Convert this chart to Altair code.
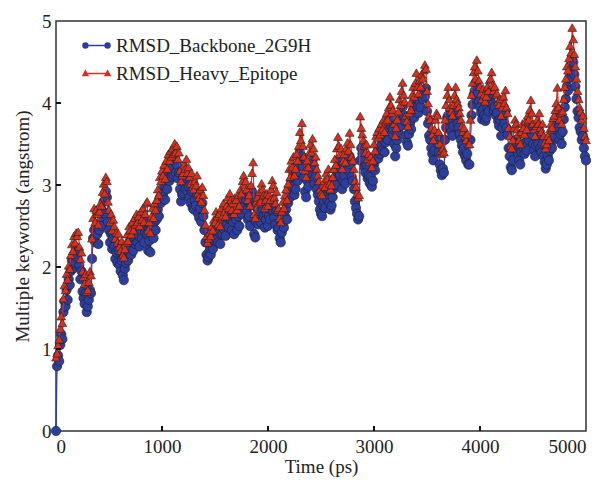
import altair as alt
import pandas as pd

# ---------------- data (one value every 10 ps) ----------------
time_ps = list(range(0, 5001, 10))

backbone = [
    0.00, 0.79, 0.92, 0.85, 1.05, 1.18, 1.12, 1.45, 1.58, 1.52,
    1.72, 1.60, 1.85, 1.78, 1.95, 2.08, 1.98, 2.15, 2.05, 2.22,
    2.12, 2.20, 2.02, 1.85, 1.95, 1.70, 1.62, 1.55, 1.68, 1.45,
    1.52, 1.60, 1.72, 1.68, 2.10, 2.35, 2.45, 2.30, 2.48, 2.40,
    2.28, 2.45, 2.55, 2.50, 2.68, 2.80, 2.65, 2.92, 2.85, 2.55,
    2.45, 2.30, 2.40, 2.22, 2.35, 2.25, 2.10, 2.18, 2.05, 2.20,
    2.02, 1.95, 2.08, 1.90, 1.84, 1.98, 2.05, 2.15, 2.08, 2.25,
    2.22, 2.15, 2.30, 2.20, 2.35, 2.28, 2.42, 2.30, 2.38, 2.25,
    2.45, 2.35, 2.50, 2.30, 2.42, 2.55, 2.40, 2.20, 2.32, 2.18,
    2.40, 2.50, 2.35, 2.55, 2.45, 2.58, 2.70, 2.62, 2.85, 2.78,
    2.95, 2.88, 3.00, 2.82, 3.05, 2.95, 3.12, 3.05, 3.18, 3.10,
    3.22, 3.12, 3.28, 3.15, 3.25, 3.08, 3.15, 2.95, 2.80, 2.88,
    2.90, 3.02, 2.95, 3.08, 2.92, 2.98, 2.85, 2.78, 2.92, 2.72,
    2.70, 2.82, 2.75, 2.88, 2.65, 2.60, 2.72, 2.55, 2.78, 2.62,
    2.45, 2.30, 2.15, 2.08, 2.12, 2.20, 2.15, 2.28, 2.22, 2.35,
    2.32, 2.45, 2.38, 2.30, 2.42, 2.28, 2.50, 2.40, 2.55, 2.45,
    2.38, 2.52, 2.60, 2.48, 2.65, 2.58, 2.45, 2.55, 2.40, 2.62,
    2.58, 2.45, 2.62, 2.50, 2.72, 2.65, 2.80, 2.88, 2.75, 2.82,
    2.70, 2.58, 2.62, 2.50, 2.75, 2.92, 2.85, 2.40, 2.36, 2.55,
    2.60, 2.52, 2.68, 2.55, 2.78, 2.70, 2.62, 2.48, 2.58, 2.65,
    2.50, 2.62, 2.58, 2.70, 2.82, 2.75, 2.60, 2.52, 2.68, 2.45,
    2.48, 2.35, 2.30, 2.42, 2.55, 2.48, 2.62, 2.70, 2.58, 2.78,
    2.95, 2.85, 3.05, 2.98, 3.10, 2.88, 2.95, 3.12, 3.05, 3.22,
    3.40, 3.30, 3.35, 3.22, 3.10, 2.92, 2.85, 3.05, 2.98, 3.15,
    3.25, 3.15, 3.30, 3.20, 3.02, 3.10, 2.95, 2.88, 2.80, 2.70,
    2.65, 2.62, 2.75, 2.80, 2.72, 2.90, 2.82, 2.95, 2.78, 2.70,
    2.75, 2.85, 2.95, 3.08, 3.00, 3.18, 3.30, 3.22, 3.12, 3.20,
    2.95, 3.05, 3.12, 3.02, 3.20, 3.28, 3.18, 3.35, 3.25, 3.10,
    3.05, 2.95, 2.80, 2.72, 2.65, 2.58, 2.62, 3.30, 3.45, 3.38,
    3.30, 3.22, 3.15, 3.25, 3.08, 3.12, 3.02, 3.10, 2.98, 3.05,
    3.25, 3.18, 3.35, 3.40, 3.32, 3.45, 3.38, 3.50, 3.42, 3.55,
    3.40, 3.52, 3.62, 3.55, 3.70, 3.80, 3.72, 3.62, 3.68, 3.50,
    3.35, 3.45, 3.55, 3.65, 3.80, 3.72, 3.88, 3.95, 3.85, 3.78,
    3.60, 3.52, 3.48, 3.62, 3.75, 3.68, 3.85, 3.92, 3.82, 3.98,
    4.05, 3.95, 3.88, 4.02, 3.95, 4.10, 4.05, 4.15, 4.08, 4.18,
    3.90, 3.75, 3.60, 3.55, 3.45, 3.38, 3.30, 3.42, 3.55, 3.62,
    3.60, 3.40, 3.25, 3.18, 3.12, 3.20, 3.15, 3.55, 3.70, 3.82,
    3.85, 3.78, 3.70, 3.65, 3.60, 3.72, 3.85, 3.92, 3.80, 3.75,
    3.70, 3.62, 3.55, 3.48, 3.40, 3.45, 3.35, 3.30, 3.38, 3.25,
    3.25, 3.55, 3.85, 3.98, 4.10, 4.15, 4.05, 4.20, 4.12, 4.02,
    3.95, 3.88, 3.80, 3.92, 3.85, 3.78, 3.82, 3.95, 3.90, 4.02,
    4.05, 4.12, 3.98, 3.90, 3.95, 3.85, 3.88, 3.78, 3.72, 3.80,
    3.60, 3.70, 3.82, 3.75, 3.90, 3.70, 3.62, 3.45, 3.35, 3.22,
    3.18, 3.30, 3.45, 3.55, 3.50, 3.42, 3.38, 3.30, 3.25, 3.40,
    3.50, 3.45, 3.38, 3.52, 3.42, 3.60, 3.55, 3.68, 3.72, 3.62,
    3.50, 3.42, 3.35, 3.48, 3.55, 3.50, 3.62, 3.45, 3.40, 3.50,
    3.35, 3.28, 3.20, 3.25, 3.35, 3.30, 3.42, 3.50, 3.45, 3.58,
    3.60, 3.68, 3.75, 3.82, 3.70, 3.55, 3.62, 3.50, 3.65, 3.80,
    3.95, 4.05, 4.20, 4.15, 4.30, 4.45, 4.38, 4.55, 4.50, 4.35,
    4.20, 4.05, 3.90, 3.82, 3.70, 3.65, 3.55, 3.60, 3.45, 3.35,
    3.30,
]

heavy = [
    0.90, 0.95, 1.05, 1.12, 1.25, 1.40, 1.32, 1.62, 1.78, 1.72,
    1.92, 1.85, 2.02, 1.98, 2.15, 2.28, 2.20, 2.38, 2.30, 2.42,
    2.38, 2.43, 2.25, 2.10, 2.18, 1.95, 1.88, 1.80, 1.92, 1.70,
    1.72, 1.82, 1.95, 1.90, 2.35, 2.60, 2.72, 2.55, 2.70, 2.65,
    2.52, 2.68, 2.78, 2.75, 2.92, 3.02, 2.90, 3.10, 3.05, 2.80,
    2.70, 2.55, 2.65, 2.45, 2.58, 2.50, 2.35, 2.42, 2.30, 2.41,
    2.25, 2.20, 2.32, 2.15, 2.12, 2.22, 2.30, 2.40, 2.32, 2.50,
    2.45, 2.40, 2.55, 2.45, 2.60, 2.52, 2.65, 2.55, 2.62, 2.50,
    2.68, 2.58, 2.72, 2.55, 2.65, 2.78, 2.80, 2.45, 2.55, 2.42,
    2.62, 2.72, 2.60, 2.78, 2.70, 2.82, 2.95, 2.88, 3.10, 3.05,
    3.18, 3.12, 3.25, 3.08, 3.30, 3.20, 3.38, 3.30, 3.42, 3.35,
    3.45, 3.38, 3.51, 3.40, 3.48, 3.32, 3.40, 3.18, 3.05, 3.12,
    3.15, 3.25, 3.20, 3.32, 3.15, 3.22, 3.10, 3.02, 3.15, 2.98,
    2.95, 3.05, 3.00, 3.12, 2.90, 2.85, 2.95, 2.80, 2.98, 2.88,
    2.70, 2.52, 2.38, 2.30, 2.35, 2.42, 2.38, 2.50, 2.45, 2.58,
    2.55, 2.68, 2.62, 2.52, 2.65, 2.50, 2.72, 2.62, 2.78, 2.68,
    2.62, 2.75, 2.85, 2.72, 2.90, 2.82, 2.70, 2.78, 2.65, 2.85,
    2.82, 2.70, 2.88, 2.75, 2.95, 2.90, 3.05, 3.12, 3.00, 3.05,
    2.95, 2.82, 2.88, 2.75, 3.00, 3.15, 3.28, 2.65, 2.60, 2.80,
    2.85, 2.78, 2.92, 2.80, 3.02, 2.95, 2.88, 2.72, 2.82, 2.90,
    2.75, 2.88, 2.82, 2.95, 3.06, 3.00, 2.85, 2.78, 2.92, 2.70,
    2.72, 2.60, 2.55, 2.68, 2.80, 2.72, 2.88, 2.95, 2.82, 3.02,
    3.20, 3.10, 3.30, 3.22, 3.35, 3.12, 3.20, 3.38, 3.30, 3.48,
    3.65, 3.55, 3.76, 3.48, 3.35, 3.18, 3.10, 3.30, 3.22, 3.40,
    3.50, 3.40, 3.57, 3.45, 3.28, 3.35, 3.20, 3.12, 3.05, 2.95,
    2.90, 2.88, 3.00, 3.05, 2.98, 3.15, 3.08, 3.20, 3.02, 2.95,
    3.00, 3.10, 3.20, 3.32, 3.25, 3.45, 3.59, 3.48, 3.38, 3.45,
    3.20, 3.30, 3.38, 3.28, 3.45, 3.52, 3.42, 3.64, 3.50, 3.35,
    3.30, 3.20, 3.05, 2.98, 2.90, 2.85, 2.88, 3.84, 3.70, 3.62,
    3.55, 3.48, 3.40, 3.50, 3.32, 3.38, 3.28, 3.35, 3.22, 3.30,
    3.50, 3.42, 3.60, 3.65, 3.58, 3.70, 3.62, 3.75, 3.68, 3.80,
    3.65, 3.78, 3.88, 3.80, 3.95, 4.08, 3.98, 3.88, 3.92, 3.75,
    3.60, 3.70, 3.80, 3.90, 4.05, 3.98, 4.15, 4.25, 4.10, 4.02,
    3.85, 3.78, 3.72, 3.88, 4.00, 3.92, 4.10, 4.20, 4.08, 4.25,
    4.37, 4.20, 4.12, 4.28, 4.20, 4.35, 4.30, 4.40, 4.47, 4.42,
    4.15, 4.00, 3.85, 3.80, 3.70, 3.62, 3.55, 3.68, 3.80, 3.88,
    3.85, 3.65, 3.50, 3.42, 3.38, 3.45, 3.40, 3.80, 3.98, 4.10,
    4.20, 4.05, 3.95, 3.90, 3.85, 3.98, 4.10, 4.20, 4.05, 4.00,
    3.95, 3.88, 3.80, 3.72, 3.65, 3.70, 3.60, 3.55, 3.62, 3.50,
    3.50, 3.80, 4.10, 4.25, 4.38, 4.45, 4.30, 4.53, 4.40, 4.28,
    4.20, 4.12, 4.05, 4.18, 4.10, 4.02, 4.08, 4.20, 4.15, 4.28,
    4.30, 4.38, 4.22, 4.15, 4.20, 4.10, 4.12, 4.02, 3.98, 4.05,
    3.85, 3.95, 4.08, 4.00, 4.16, 3.95, 3.88, 3.70, 3.60, 3.48,
    3.45, 3.55, 3.70, 3.80, 3.75, 3.68, 3.62, 3.55, 3.50, 3.65,
    3.75, 3.70, 3.62, 3.78, 3.68, 3.85, 3.80, 3.92, 4.04, 3.88,
    3.75, 3.68, 3.60, 3.72, 3.80, 3.75, 3.88, 3.70, 3.65, 3.75,
    3.60, 3.52, 3.45, 3.50, 3.60, 3.55, 3.68, 3.75, 3.70, 3.82,
    3.85, 3.92, 4.00, 4.19, 3.95, 3.80, 3.88, 3.75, 3.90, 4.05,
    4.20, 4.30, 4.45, 4.40, 4.55, 4.70, 4.62, 4.92, 4.78, 4.60,
    4.45, 4.30, 4.15, 4.05, 3.95, 3.90, 3.80, 3.85, 3.70, 3.60,
    3.55,
]

series_names = ["RMSD_Backbone_2G9H", "RMSD_Heavy_Epitope"]
x_tick_values = [1000, 2000, 3000, 4000]
y_tick_values = [1, 2, 3, 4]

assert len(backbone) == len(time_ps) == len(heavy)

df = pd.DataFrame({
    "time": time_ps + time_ps,
    "rmsd": backbone + heavy,
    "series": [series_names[0]] * len(time_ps) + [series_names[1]] * len(time_ps),
})

# ---------------- style ----------------
W, H = 530, 410
FONT = "Liberation Serif"
BLUE = "#2c3e9e"
RED = "#d8301e"
EDGE = "#1e1e1e"

PATH_B = ("M-0.82,0H0.82"
          "M-1,0A0.18,0.18 0 1,0 -0.64,0A0.18,0.18 0 1,0 -1,0Z"
          "M0.64,0A0.18,0.18 0 1,0 1,0A0.18,0.18 0 1,0 0.64,0Z")
PATH_R = ("M-0.82,0H0.82"
          "M-1,0.15L-0.82,-0.2L-0.64,0.15Z"
          "M0.64,0.15L0.82,-0.2L1,0.15Z")

xscale = alt.Scale(domain=[0, 5000], nice=False, zero=False)
yscale = alt.Scale(domain=[0, 5], nice=False, zero=False)

x_axis = alt.Axis(title="Time (ps)", values=[0, 1000, 2000, 3000, 4000, 5000],
                  tickSize=0, domain=False, grid=False, format="d",
                  labelPadding=6, titlePadding=1)
y_axis = alt.Axis(title="Multiple keywords (angstrom)", values=[0, 1, 2, 3, 4, 5],
                  tickSize=0, domain=False, grid=False, labelPadding=5,
                  titlePadding=9)
x_enc = alt.X("time:Q", scale=xscale, axis=x_axis)
y_enc = alt.Y("rmsd:Q", scale=yscale, axis=y_axis)

base = alt.Chart(df)
is_b = alt.datum.series == series_names[0]
is_r = alt.datum.series == series_names[1]

blue_line = base.transform_filter(is_b).mark_line(color=BLUE, strokeWidth=1.2).encode(x=x_enc, y=y_enc)
blue_pts = base.transform_filter(is_b).mark_point(
    shape="circle", filled=True, fill=BLUE, stroke=EDGE, strokeWidth=0.6, size=88, opacity=1
).encode(x=x_enc, y=y_enc)
red_line = base.transform_filter(is_r).mark_line(color=RED, strokeWidth=1.2).encode(x=x_enc, y=y_enc)
red_pts = base.transform_filter(is_r).mark_point(
    shape="triangle-up", filled=True, fill=RED, stroke=EDGE, strokeWidth=0.6, size=78, opacity=1
).encode(x=x_enc, y=y_enc)

leg = alt.Legend(title=None)
legend_layer = base.transform_filter("datum.rmsd < -100").mark_point(
    filled=True, opacity=1, strokeWidth=1.5
).encode(
    x=x_enc, y=y_enc,
    fill=alt.Fill("series:N", scale=alt.Scale(domain=series_names, range=[BLUE, RED]), legend=leg),
    stroke=alt.Stroke("series:N", scale=alt.Scale(domain=series_names, range=[BLUE, RED]), legend=leg),
    shape=alt.Shape("series:N", scale=alt.Scale(domain=series_names, range=[PATH_B, PATH_R]), legend=leg),
)

xticks = alt.Chart(pd.DataFrame({"time": x_tick_values})).mark_rule(color="#111", strokeWidth=2).encode(
    x=alt.X("time:Q", scale=xscale, axis=x_axis), y=alt.value(H), y2=alt.value(H - 5))
yticks = alt.Chart(pd.DataFrame({"rmsd": y_tick_values})).mark_rule(color="#111", strokeWidth=2).encode(
    y=alt.Y("rmsd:Q", scale=yscale, axis=y_axis), x=alt.value(0), x2=alt.value(5))

chart = alt.layer(
    blue_line, blue_pts, red_line, red_pts, legend_layer, xticks, yticks
).properties(
    width=W, height=H,
    autosize=alt.AutoSizeParams(type="none"),
    padding={"left": 48, "top": 13, "right": 15, "bottom": 50},
).configure_view(
    stroke="#333", strokeWidth=1.5
).configure_axis(
    labelFont=FONT, titleFont=FONT, labelFontSize=19, titleFontSize=19,
    labelColor="#222", titleColor="#222", titleFontWeight="normal",
).configure_legend(
    orient="none", legendX=26, legendY=10, padding=0, rowPadding=3,
    symbolSize=729, symbolStrokeWidth=1.5, symbolOpacity=1, labelLimit=0,
    labelFont=FONT, labelFontSize=19, labelColor="#222", labelOffset=5,
)

chart.save("out.html", embed_options={"renderer": "svg", "actions": False})
